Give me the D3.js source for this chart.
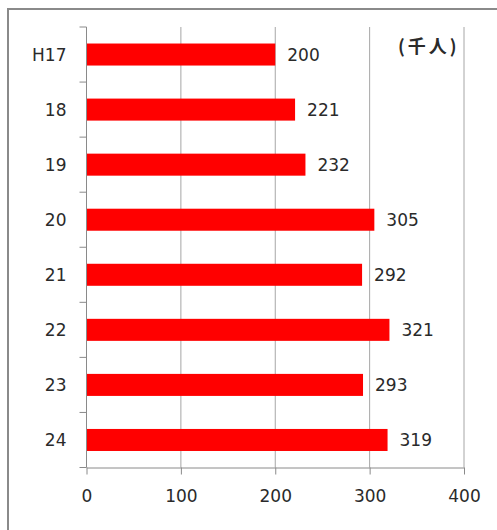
<!DOCTYPE html>
<html lang="ja">
<head>
<meta charset="utf-8">
<title>bar chart</title>
<script src="https://cdn.jsdelivr.net/npm/d3@7"></script>
<style>
  body { margin: 0; background: #fff; }
  text { font-family: "DejaVu Sans", sans-serif; fill: #2a2a2a; }
</style>
</head>
<body>
<script>
// data
var categories = ["H17", "18", "19", "20", "21", "22", "23", "24"];
var values = [200, 221, 232, 305, 292, 321, 293, 319];
var xTicks = [0, 100, 200, 300, 400];
var unitLabel = "(千人)";

var w = 497, h = 530;
var plotLeft = 86.5, plotRight = 464, plotTop = 27, plotBottom = 467.5;

var svg = d3.select("body").append("svg")
    .attr("width", w)
    .attr("height", h);

// chart frame
svg.append("rect")
    .attr("x", 8).attr("y", 9)
    .attr("width", w + 20).attr("height", h + 20)
    .attr("fill", "none")
    .attr("stroke", "#8a8a8a")
    .attr("stroke-width", 2);

var xScale = d3.scaleLinear()
    .domain([0, 400])
    .range([plotLeft, plotRight]);

var yScale = d3.scaleBand()
    .domain(categories)
    .range([plotTop, plotBottom])
    .paddingInner(0.6)
    .paddingOuter(0.3);

// gridlines
svg.append("g")
    .selectAll("line")
    .data(xTicks.slice(1))
    .enter()
    .append("line")
    .attr("x1", function(d) { return xScale(d); })
    .attr("x2", function(d) { return xScale(d); })
    .attr("y1", plotTop)
    .attr("y2", plotBottom)
    .attr("stroke", "#a6a6a6")
    .attr("stroke-width", 1);

// bars
svg.append("g")
    .selectAll("rect")
    .data(values)
    .enter()
    .append("rect")
    .attr("x", xScale(0))
    .attr("y", function(d, i) { return yScale(categories[i]); })
    .attr("width", function(d) { return xScale(d) - xScale(0); })
    .attr("height", yScale.bandwidth())
    .attr("fill", "#ff0000");

// value labels
svg.append("g")
    .selectAll("text")
    .data(values)
    .enter()
    .append("text")
    .attr("x", function(d) { return xScale(d) + 12; })
    .attr("y", function(d, i) { return yScale(categories[i]) + yScale.bandwidth() / 2; })
    .attr("dy", "0.36em")
    .attr("font-size", "17px")
    .text(function(d) { return d; });

// x axis
var xAxis = svg.append("g")
    .attr("transform", "translate(0," + plotBottom + ")")
    .call(d3.axisBottom(xScale).tickValues(xTicks).tickSize(7).tickSizeOuter(0).tickPadding(15));
xAxis.select(".domain").attr("stroke", "#8a8a8a");
xAxis.selectAll(".tick line").attr("stroke", "#8a8a8a");
xAxis.selectAll("text")
    .attr("font-size", "17px")
    .attr("font-family", "DejaVu Sans, sans-serif")
    .attr("fill", "#2a2a2a");

// y axis: ticks sit between categories
var step = (plotBottom - plotTop) / categories.length;
var yAxis = svg.append("g");
yAxis.append("line")
    .attr("x1", plotLeft).attr("x2", plotLeft)
    .attr("y1", plotTop).attr("y2", plotBottom)
    .attr("stroke", "#8a8a8a");
yAxis.selectAll(".ytick")
    .data(d3.range(categories.length + 1))
    .enter()
    .append("line")
    .attr("class", "ytick")
    .attr("x1", plotLeft - 7).attr("x2", plotLeft)
    .attr("y1", function(i) { return plotTop + i * step; })
    .attr("y2", function(i) { return plotTop + i * step; })
    .attr("stroke", "#8a8a8a");
yAxis.selectAll("text")
    .data(categories)
    .enter()
    .append("text")
    .attr("x", plotLeft - 20)
    .attr("y", function(d) { return yScale(d) + yScale.bandwidth() / 2; })
    .attr("dy", "0.36em")
    .attr("text-anchor", "end")
    .attr("font-size", "17px")
    .text(function(d) { return d; });

// unit
svg.append("text")
    .attr("x", 398)
    .attr("y", 47)
    .attr("dy", "0.36em")
    .attr("font-size", "18px")
    .attr("font-weight", "bold")
    .attr("letter-spacing", "3px")
    .style("font-family", "'Noto Sans CJK JP', sans-serif")
    .text(unitLabel);
</script>
</body>
</html>
